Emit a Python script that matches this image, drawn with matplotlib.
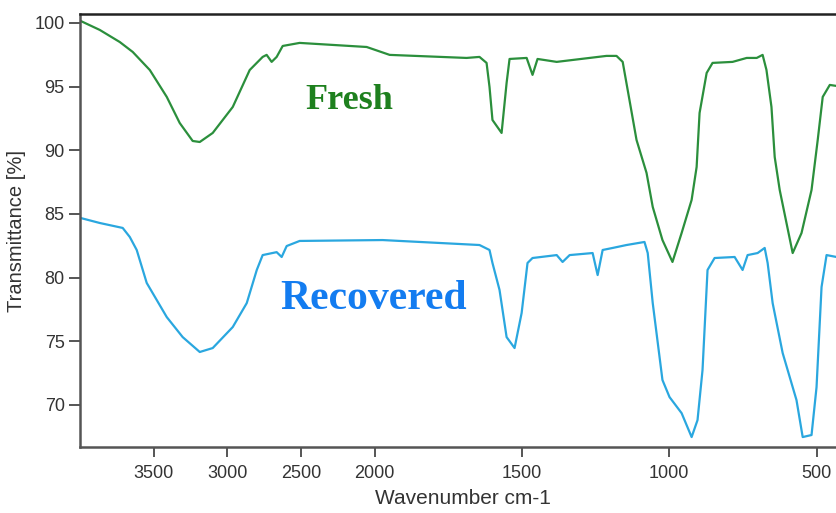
import numpy as np
import matplotlib
matplotlib.use("Agg")
import matplotlib.pyplot as plt

# ---------------- data ----------------
fresh_wn = [3995, 3866, 3730, 3642, 3526, 3411, 3323, 3235, 3187, 3099, 2963, 2848,
            2760, 2733, 2699, 2665, 2624, 2509, 2054, 1949, 1688, 1644, 1620, 1610,
            1600, 1569, 1552, 1542, 1484, 1464, 1447, 1382, 1213, 1179, 1158, 1135,
            1111, 1077, 1056, 1023, 989, 958, 924, 907, 897, 873, 853, 785, 737, 703,
            683, 670, 653, 642, 625, 602, 581, 551, 517, 496, 479, 455, 432, 400]
fresh_t = [100.15, 99.45, 98.5, 97.72, 96.3, 94.19, 92.14, 90.73, 90.65, 91.36, 93.4, 96.3,
           97.33, 97.49, 96.94, 97.33, 98.19, 98.43, 98.11, 97.49, 97.25, 97.33, 96.86, 94.97,
           92.38, 91.36, 95.29, 97.17, 97.25, 95.92, 97.17, 96.94, 97.41, 97.41, 96.94, 93.95,
           90.81, 88.22, 85.55, 82.95, 81.23, 83.5, 86.1, 88.69, 92.93, 96.07, 96.86, 96.94, 97.25, 97.25,
           97.49, 96.31, 93.4, 89.47, 86.88, 84.29, 81.93, 83.5, 86.88, 90.81, 94.19, 95.13, 95.05, 95.0]

recovered_wn = [3995, 3866, 3710, 3662, 3615, 3547, 3411, 3303, 3187, 3099, 2963, 2868,
                2800, 2760, 2665, 2631, 2597, 2509, 1973, 1779, 1644, 1610, 1600, 1576,
                1552, 1525, 1501, 1481, 1464, 1382, 1362, 1338, 1260, 1243, 1226, 1192,
                1145, 1084, 1073, 1056, 1023, 999, 958, 924, 904, 887, 870, 846, 778, 751,
                734, 700, 676, 666, 649, 615, 568, 547, 517, 500, 483, 466, 432, 400]
recovered_t = [84.68, 84.29, 83.9, 83.19, 82.17, 79.58, 76.9, 75.33, 74.16, 74.47, 76.12, 78.0,
               80.6, 81.77, 82.0, 81.62, 82.48, 82.88, 82.95, 82.72, 82.56, 82.17, 81.15, 79.03,
               75.33, 74.47, 77.22, 81.15, 81.54, 81.77, 81.23, 81.77, 81.93, 80.2, 82.17, 82.33,
               82.56, 82.8, 81.93, 78.0, 71.96, 70.62, 69.36, 67.48, 68.81, 72.74, 80.6, 81.54, 81.62, 80.6,
               81.77, 81.93, 82.33, 81.15, 78.0, 74.08, 70.38, 67.48, 67.64, 71.4, 79.26, 81.77, 81.62, 81.6]

x_ticks = [3500, 3000, 2500, 2000, 1500, 1000, 500]
y_ticks = [70, 75, 80, 85, 90, 95, 100]

# ------------- scale: 2x compression above 2000 cm-1 -------------
def fwd(w):
    w = np.asarray(w, dtype=float)
    return np.where(w > 2000, 2000 + (w - 2000) / 2.0, w)

def inv(u):
    u = np.asarray(u, dtype=float)
    return np.where(u > 2000, 2000 + (u - 2000) * 2.0, u)

plt.rcParams['font.family'] = ['Liberation Sans', 'DejaVu Sans']

W, H = 837, 513
fig = plt.figure(figsize=(W / 100, H / 100), dpi=100)
ax = fig.add_axes([80 / W, (H - 447) / H, (846 - 80) / W, (447 - 14) / H])

green = '#2b8f3c'
blue = '#2aa7df'
ax.plot(fresh_wn, fresh_t, color=green, lw=1.6, solid_joinstyle='round')
ax.plot(recovered_wn, recovered_t, color=blue, lw=1.6, solid_joinstyle='round')

ax.set_xscale('function', functions=(fwd, inv))
ax.set_xlim(4000, 400)
ax.set_ylim(66.7, 100.7)
ax.set_xticks(x_ticks)
ax.set_xticklabels([str(t) for t in x_ticks])
ax.set_yticks(y_ticks)
ax.set_yticklabels([str(t) for t in y_ticks])
ax.minorticks_off()

ax.tick_params(axis='both', labelsize=13, colors='#555555', labelcolor='#333333',
               width=1.4, direction='out')
ax.tick_params(axis='y', length=8, pad=3)
ax.tick_params(axis='x', length=7, pad=6)

for s in ['left', 'bottom']:
    ax.spines[s].set_color('#555555')
    ax.spines[s].set_linewidth(1.8)
ax.spines['top'].set_color('#222222')
ax.spines['top'].set_linewidth(1.8)
ax.spines['right'].set_visible(False)

ax.set_xlabel('Wavenumber cm-1', fontsize=15, color='#333333', labelpad=5)
ax.set_ylabel('Transmittance [%]', fontsize=14.5, color='#333333', labelpad=6)

ax.text(2170, 93.9, 'Fresh',
        family=['Liberation Serif', 'DejaVu Serif'], fontweight='bold', fontsize=26,
        color='#1e801e', ha='center', va='center')
ax.text(2010, 78.3, 'Recovered',
        family=['Liberation Serif', 'DejaVu Serif'], fontweight='bold', fontsize=30,
        color='#137cf0', ha='center', va='center')

fig.savefig('out.png', dpi=100)
